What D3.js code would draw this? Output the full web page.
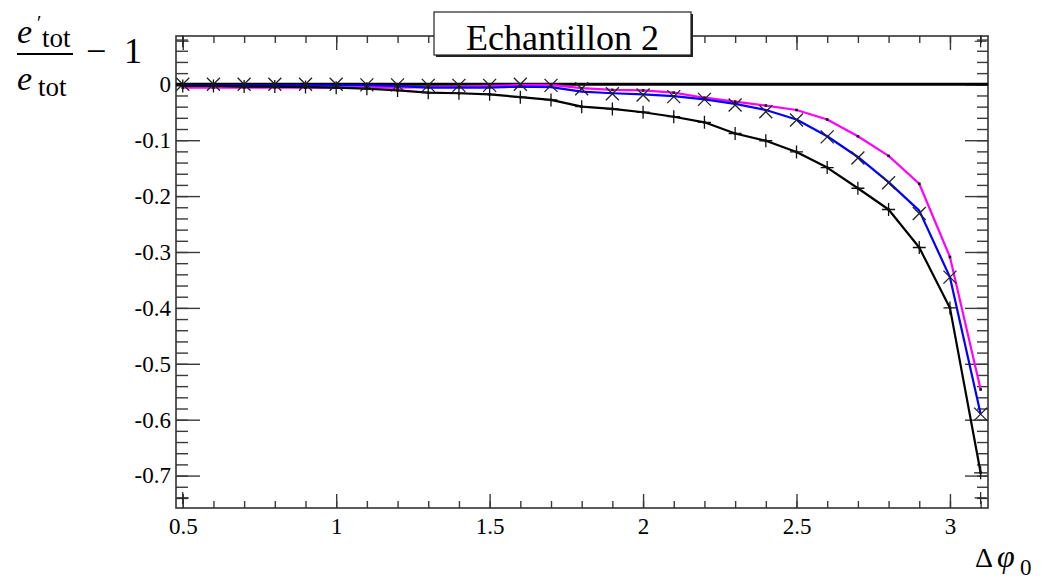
<!DOCTYPE html>
<html>
<head>
<meta charset="utf-8">
<script src="https://cdn.jsdelivr.net/npm/d3@7"></script>
<style>
  html, body { margin: 0; padding: 0; background: #fff; }
  svg { display: block; }
  svg text { font-family: "Liberation Serif", "Tinos", "Times New Roman", "DejaVu Serif", "Noto Serif", serif; fill: #000; }
</style>
</head>
<body>
<svg id="chart" width="1051" height="579"></svg>
<script>
// Δφ0 sample positions
const phiValues = [0.5, 0.6, 0.7, 0.8, 0.9, 1.0, 1.1, 1.2, 1.3, 1.4, 1.5, 1.6, 1.7, 1.8,
                   1.9, 2.0, 2.1, 2.2, 2.3, 2.4, 2.5, 2.6, 2.7, 2.8, 2.9, 3.0, 3.1];

// black curve, drawn with "+" markers
const blackValues = [-0.003, -0.003, -0.004, -0.004, -0.005, -0.006, -0.008, -0.011, -0.015,
                     -0.016, -0.018, -0.023, -0.028, -0.040, -0.044, -0.050, -0.058, -0.068,
                     -0.088, -0.101, -0.121, -0.149, -0.186, -0.224, -0.292, -0.400, -0.695];

// blue curve
const blueValues = [-0.002, -0.002, -0.002, -0.002, -0.002, -0.002, -0.002, -0.003, -0.006,
                    -0.006, -0.006, -0.004, -0.005, -0.013, -0.016, -0.018, -0.021, -0.027,
                    -0.035, -0.046, -0.063, -0.093, -0.130, -0.175, -0.226, -0.345, -0.590];

// "×" markers
const crossValues = [0.000, 0.000, 0.000, 0.000, 0.000, 0.000, -0.001, -0.001, -0.002,
                     -0.002, -0.002, 0.000, -0.002, -0.008, -0.017, -0.019, -0.022, -0.027,
                     -0.037, -0.049, -0.064, -0.094, -0.132, -0.176, -0.231, -0.345, -0.590];

// magenta curve
const magentaValues = [-0.006, -0.006, -0.006, -0.006, -0.006, -0.006, -0.006, -0.006, -0.005,
                       -0.004, -0.003, -0.001, -0.001, -0.007, -0.010, -0.011, -0.015, -0.024,
                       -0.031, -0.038, -0.046, -0.063, -0.093, -0.128, -0.178, -0.309, -0.546];

// range-setting corner points
const cornerX = [0.5, 3.1, 0.5, 3.1];
const cornerY = [0.077, 0.077, -0.74, -0.74];

// axis tick labels
const xTickLabels = [0.5, 1, 1.5, 2, 2.5, 3];
const yTickLabels = [0, -0.1, -0.2, -0.3, -0.4, -0.5, -0.6, -0.7];

const titleText = "Echantillon 2";

const serif = '"Liberation Serif", "Tinos", "Times New Roman", "DejaVu Serif", "Noto Serif", serif';

const svg = d3.select("#chart");
const frame = { left: 176, right: 988, top: 36, bottom: 508 };

const x = d3.scaleLinear().domain([0.478, 3.124]).range([frame.left, frame.right]);
const y = d3.scaleLinear().domain([0.0864, -0.758]).range([frame.top, frame.bottom]);

const tickColor = "#3a3a3a";

// minor tick positions
const xMinor = d3.range(5, 32).map(v => v / 10);
const yMinor = d3.range(-37, 5).map(v => v / 50);
const fmt = d => String(+(+d).toFixed(1));

function styleAxis(g) {
  g.attr("font-family", null).attr("font-size", null);
  g.select(".domain").remove();
  g.selectAll(".tick line").attr("stroke", tickColor).attr("stroke-width", 1.4);
  g.selectAll(".tick text")
    .style("font-family", serif)
    .style("font-size", "23px")
    .attr("fill", "#000");
}

// bottom axis
svg.append("g").attr("transform", `translate(0,${frame.bottom})`)
  .call(d3.axisBottom(x).tickValues(xMinor).tickSize(-7).tickFormat(""))
  .call(styleAxis);
svg.append("g").attr("transform", `translate(0,${frame.bottom})`)
  .call(d3.axisBottom(x).tickValues(xTickLabels).tickSize(-14).tickPadding(10).tickFormat(fmt))
  .call(styleAxis);
// top axis
svg.append("g").attr("transform", `translate(0,${frame.top})`)
  .call(d3.axisTop(x).tickValues(xMinor).tickSize(-7).tickFormat(""))
  .call(styleAxis);
svg.append("g").attr("transform", `translate(0,${frame.top})`)
  .call(d3.axisTop(x).tickValues(xTickLabels).tickSize(-14).tickFormat(""))
  .call(styleAxis);
// left axis
svg.append("g").attr("transform", `translate(${frame.left},0)`)
  .call(d3.axisLeft(y).tickValues(yMinor).tickSize(-12).tickFormat(""))
  .call(styleAxis);
svg.append("g").attr("transform", `translate(${frame.left},0)`)
  .call(d3.axisLeft(y).tickValues(yTickLabels).tickSize(-24).tickPadding(5).tickFormat(fmt))
  .call(styleAxis);
// right axis
svg.append("g").attr("transform", `translate(${frame.right},0)`)
  .call(d3.axisRight(y).tickValues(yMinor).tickSize(-11).tickFormat(""))
  .call(styleAxis);
svg.append("g").attr("transform", `translate(${frame.right},0)`)
  .call(d3.axisRight(y).tickValues(yTickLabels).tickSize(-23).tickFormat(""))
  .call(styleAxis);

// frame
svg.append("rect")
  .attr("x", frame.left).attr("y", frame.top)
  .attr("width", frame.right - frame.left).attr("height", frame.bottom - frame.top)
  .attr("fill", "none").attr("stroke", "#333").attr("stroke-width", 1.6);

// reference line at zero
svg.append("line")
  .attr("x1", frame.left).attr("x2", frame.right)
  .attr("y1", y(0)).attr("y2", y(0))
  .attr("stroke", "#000").attr("stroke-width", 3);

const line = d3.line().x(d => x(d[0])).y(d => y(d[1]));
const zip = vals => phiValues.map((p, i) => [p, vals[i]]);

const curves = [
  { vals: magentaValues, color: "#ff00ff" },
  { vals: blueValues, color: "#0000ff" },
  { vals: blackValues, color: "#000000" }
];
curves.forEach(c => {
  svg.append("path")
    .datum(zip(c.vals))
    .attr("d", line)
    .attr("fill", "none")
    .attr("stroke", c.color)
    .attr("stroke-width", 2.2)
    .attr("stroke-linejoin", "round");
});

// small point dots
[magentaValues, blackValues].forEach(vals => {
  svg.append("g").selectAll("rect").data(zip(vals)).join("rect")
    .attr("x", d => x(d[0]) - 1.3).attr("y", d => y(d[1]) - 1.3)
    .attr("width", 2.6).attr("height", 2.6).attr("fill", "#111");
});

// "×" markers
svg.append("g").selectAll("path").data(zip(crossValues)).join("path")
  .attr("transform", d => `translate(${x(d[0])},${y(d[1])})`)
  .attr("d", "M-6.5,-6.5L6.5,6.5M-6.5,6.5L6.5,-6.5")
  .attr("stroke", "#222").attr("stroke-width", 1.3).attr("fill", "none");

// "+" markers
svg.append("g").selectAll("path").data(zip(blackValues)).join("path")
  .attr("transform", d => `translate(${x(d[0])},${y(d[1])})`)
  .attr("d", "M-6.5,0H6.5M0,-6.5V6.5")
  .attr("stroke", "#111").attr("stroke-width", 1.3).attr("fill", "none");

// corner markers
svg.append("g").selectAll("path").data(cornerX.map((v, i) => [v, cornerY[i]])).join("path")
  .attr("transform", d => `translate(${x(d[0])},${y(d[1])})`)
  .attr("d", "M-6,0H6M0,-6V6")
  .attr("stroke", "#222").attr("stroke-width", 1.2).attr("fill", "none");

// title box with shadow
const box = { x: 434, y: 12, w: 257, h: 43 };
svg.append("rect")
  .attr("x", box.x + 2).attr("y", box.y + 2).attr("width", box.w).attr("height", box.h)
  .attr("fill", "#222");
svg.append("rect")
  .attr("x", box.x).attr("y", box.y).attr("width", box.w).attr("height", box.h)
  .attr("fill", "#fff").attr("stroke", "#222").attr("stroke-width", 1.2);
svg.append("text")
  .attr("x", box.x + box.w / 2).attr("y", 50)
  .attr("text-anchor", "middle")
  .style("font-size", "36px")
  .text(titleText);

// y axis title: e'_tot / e_tot − 1
const yt = svg.append("g");
yt.append("text").attr("x", 17).attr("y", 43)
  .style("font-size", "34px").style("font-style", "italic").text("e");
yt.append("text").attr("x", 37).attr("y", 30)
  .style("font-size", "20px").text("′");
yt.append("text").attr("x", 42).attr("y", 47)
  .style("font-size", "27px").text("tot");
yt.append("line").attr("x1", 17).attr("x2", 73).attr("y1", 54).attr("y2", 54)
  .attr("stroke", "#000").attr("stroke-width", 2);
yt.append("text").attr("x", 17).attr("y", 90)
  .style("font-size", "34px").style("font-style", "italic").text("e");
yt.append("text").attr("x", 38).attr("y", 96)
  .style("font-size", "27px").text("tot");
const rest = yt.append("text").attr("y", 63).style("font-size", "36px");
rest.append("tspan").attr("x", 86).text("−");
rest.append("tspan").attr("x", 124).text("1");

// x axis title: Δφ0
const xt = svg.append("text").attr("y", 567);
xt.append("tspan").attr("x", 975).style("font-size", "28px").text("Δ");
xt.append("tspan").attr("x", 997).style("font-size", "32px").style("font-style", "italic").text("φ");
xt.append("tspan").attr("x", 1020).attr("y", 575).style("font-size", "23px").text("0");
</script>
</body>
</html>
